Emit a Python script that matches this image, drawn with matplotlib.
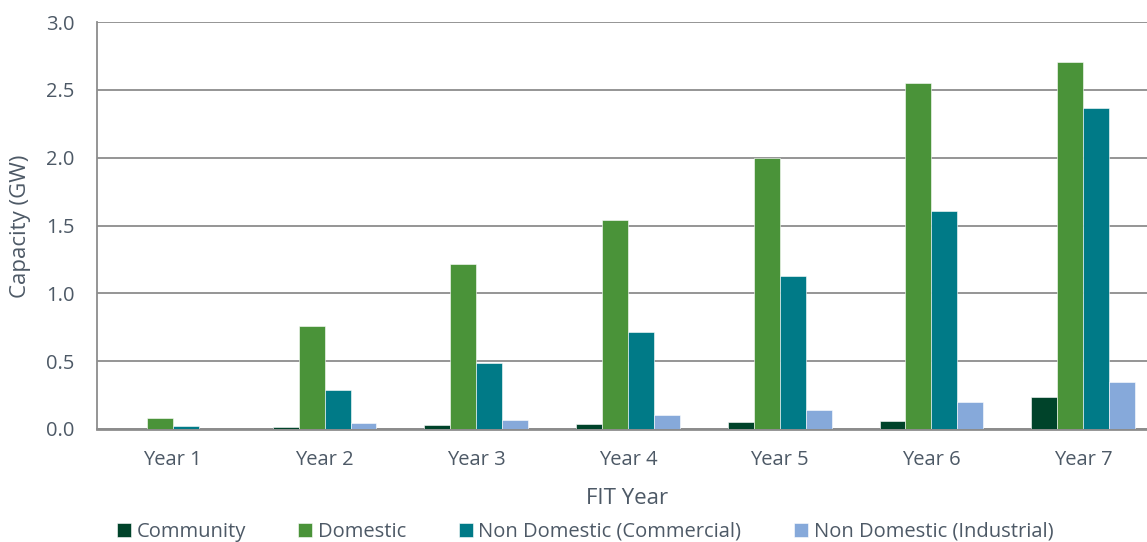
import numpy as np
import matplotlib.pyplot as plt

# Capacidade instalada por ano do FIT (GW)
anos = ['Year 1', 'Year 2', 'Year 3', 'Year 4', 'Year 5', 'Year 6', 'Year 7']
community = [0.003, 0.015, 0.030, 0.037, 0.049, 0.061, 0.236]
domestic = [0.083, 0.758, 1.216, 1.542, 2.000, 2.550, 2.705]
commercial = [0.024, 0.287, 0.486, 0.715, 1.127, 1.607, 2.366]
industrial = [0.002, 0.042, 0.066, 0.103, 0.140, 0.199, 0.349]

series = ['Community', 'Domestic', 'Non Domestic (Commercial)', 'Non Domestic (Industrial)']
cores = ['#00432A', '#4A9339', '#007A87', '#86A9DA']
texto = '#4D5966'

plt.rcParams['font.family'] = ['Open Sans', 'DejaVu Sans']

fig = plt.figure(figsize=(11.47, 5.42), dpi=100)
# o eixo passa um pouco da borda direita da figura
ax = fig.add_axes([97 / 1147, 1 - 429 / 542, 1062 / 1147, 407 / 542])

x = np.arange(len(anos))
w = 0.171
valores = [community, domestic, commercial, industrial]
for i, (vals, nome, cor) in enumerate(zip(valores, series, cores)):
    ax.bar(x + (i - 1.5) * w, vals, width=w, color=cor, label=nome,
           edgecolor='white', linewidth=0.4, zorder=3)

ax.set_xlim(-0.5, len(anos) - 0.5)
ax.set_ylim(0, 3.0)
ax.set_yticks(np.arange(0, 3.01, 0.5))
ax.set_yticklabels([f'{v:.1f}' for v in np.arange(0, 3.01, 0.5)])
ax.set_xticks(x)
ax.set_xticklabels(anos)

ax.grid(axis='y', color='#8C8C8C', linewidth=1.3, zorder=0)
for lado in ['top', 'right']:
    ax.spines[lado].set_visible(False)
ax.spines['left'].set_color('#8C8C8C')
ax.spines['left'].set_linewidth(1.3)
ax.spines['bottom'].set_color('#8C8C8C')
ax.spines['bottom'].set_linewidth(2)
ax.tick_params(length=0, labelsize=14.5, colors=texto)
ax.tick_params(axis='x', pad=15)
ax.tick_params(axis='y', pad=16)

# rótulos dos eixos posicionados direto na figura
fig.text(21 / 1147, 1 - 226 / 542, 'Capacity (GW)', rotation=90, ha='center',
         va='center', fontsize=16, color=texto)
fig.text(627 / 1147, 1 - 498 / 542, 'FIT Year', ha='center', va='center',
         fontsize=16, color=texto)

fig.legend(loc='center', bbox_to_anchor=(585 / 1147, 1 - 532 / 542), ncol=4,
           frameon=False, fontsize=14.5, labelcolor=texto,
           handlelength=0.7, handleheight=0.65, handletextpad=0.28,
           columnspacing=2.6, borderpad=0)

plt.savefig('out.png', dpi=100)
